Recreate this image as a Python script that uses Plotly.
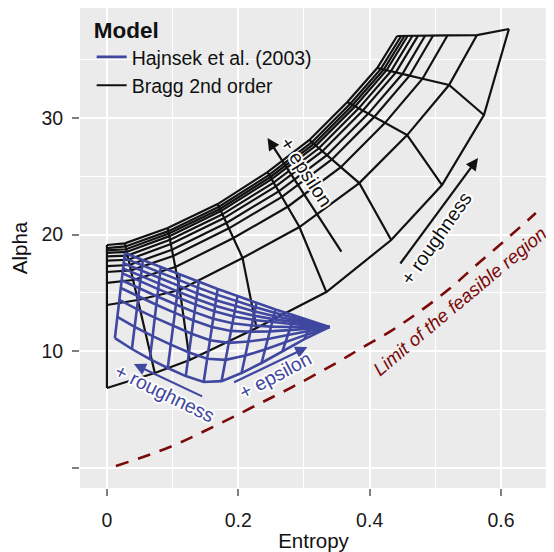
import plotly.graph_objects as go

# ---------------- data ----------------
# Bragg 2nd order mesh: one row per epsilon curve (high eps -> low eps), one column per roughness line
bragg_x = [
    [0, .0273, .0926, .1686, .2445, .3083, .3660, .4115, .4419],
    [0, .0283, .0935, .1705, .2469, .3121, .3705, .4170, .4480],
    [0, .0292, .0943, .1721, .2489, .3151, .3742, .4214, .4529],
    [0, .0299, .0951, .1736, .2509, .3181, .3778, .4258, .4577],
    [0, .0311, .0961, .1759, .2538, .3227, .3833, .4323, .4650],
    [0, .0325, .0973, .1784, .2571, .3280, .3897, .4399, .4735],
    [0, .0343, .0990, .1819, .2615, .3349, .3979, .4498, .4844],
    [0, .0363, .1008, .1857, .2664, .3425, .4070, .4607, .4966],
    [0, .0398, .1042, .1926, .2752, .3561, .4234, .4805, .5184],
    [0, .0471, .1109, .2065, .2931, .3842, .4571, .5209, .5634],
    [0, .0729, .1260, .2278, .3341, .4328, .5102, .5740, .6120],
]
bragg_y = [
    [19.11, 19.25, 20.57, 22.62, 25.36, 28.11, 31.36, 34.28, 37.02],
    [18.85, 18.99, 20.30, 22.39, 25.12, 27.92, 31.22, 34.20, 37.02],
    [18.65, 18.75, 20.09, 22.20, 24.94, 27.77, 31.11, 34.15, 37.02],
    [18.44, 18.52, 19.87, 22.02, 24.75, 27.63, 30.99, 34.09, 37.02],
    [18.13, 18.20, 19.56, 21.74, 24.46, 27.40, 30.82, 34.00, 37.02],
    [17.77, 17.85, 19.19, 21.42, 24.14, 27.15, 30.63, 33.90, 37.03],
    [17.31, 17.40, 18.71, 21.00, 23.71, 26.81, 30.37, 33.76, 37.04],
    [16.80, 16.94, 18.17, 20.54, 23.24, 26.44, 30.09, 33.62, 37.06],
    [15.87, 16.11, 17.22, 19.71, 22.39, 25.78, 29.58, 33.36, 37.07],
    [13.97, 14.40, 15.25, 18.00, 20.65, 24.42, 28.53, 32.82, 37.10],
    [6.86, 8.14, 9.25, 12.00, 15.08, 19.54, 24.25, 30.25, 37.62],
]

# Hajnsek et al. (2003) mesh: one row per roughness curve, one column per epsilon line
hajnsek_x = [
    [.0273, .0547, .0820, .1109, .1397, .1686, .1989, .2278, .2566, .2855, .3128, .3386],
    [.0264, .0536, .0809, .1098, .1385, .1673, .1974, .2264, .2554, .2844, .3121, .3386],
    [.0255, .0527, .0800, .1087, .1373, .1660, .1961, .2251, .2541, .2833, .3113, .3386],
    [.0246, .0516, .0790, .1075, .1362, .1648, .1946, .2237, .2528, .2821, .3107, .3386],
    [.0237, .0507, .0781, .1065, .1350, .1634, .1932, .2223, .2515, .2811, .3099, .3386],
    [.0225, .0494, .0767, .1051, .1333, .1617, .1912, .2205, .2498, .2797, .3089, .3386],
    [.0211, .0478, .0752, .1034, .1317, .1599, .1889, .2185, .2480, .2780, .3078, .3386],
    [.0190, .0456, .0729, .1008, .1289, .1569, .1856, .2153, .2450, .2755, .3061, .3386],
    [.0159, .0422, .0696, .0972, .1250, .1526, .1807, .2108, .2407, .2718, .3037, .3386],
    [.0121, .0380, .0653, .0926, .1200, .1473, .1746, .2050, .2354, .2673, .3007, .3386],
]
hajnsek_y = [
    [18.42, 17.82, 17.22, 16.58, 15.94, 15.34, 14.74, 14.14, 13.58, 13.07, 12.55, 12.08],
    [17.99, 17.37, 16.75, 16.10, 15.46, 14.86, 14.30, 13.78, 13.31, 12.89, 12.46, 12.08],
    [17.55, 16.91, 16.28, 15.62, 14.97, 14.38, 13.86, 13.42, 13.03, 12.70, 12.37, 12.08],
    [17.11, 16.45, 15.80, 15.14, 14.49, 13.91, 13.43, 13.06, 12.76, 12.52, 12.28, 12.08],
    [16.68, 15.99, 15.33, 14.66, 14.00, 13.43, 12.99, 12.70, 12.49, 12.34, 12.19, 12.08],
    [16.09, 15.38, 14.70, 14.02, 13.36, 12.79, 12.41, 12.22, 12.12, 12.09, 12.07, 12.08],
    [15.43, 14.70, 13.99, 13.30, 12.64, 12.08, 11.75, 11.68, 11.71, 11.82, 11.93, 12.08],
    [14.41, 13.62, 12.89, 12.18, 11.51, 10.95, 10.73, 10.84, 11.06, 11.40, 11.73, 12.08],
    [12.96, 12.10, 11.31, 10.57, 9.90, 9.36, 9.27, 9.64, 10.15, 10.79, 11.43, 12.08],
    [11.14, 10.20, 9.34, 8.57, 7.88, 7.37, 7.45, 8.14, 9.00, 10.03, 11.05, 12.08],
]

# Limit of the feasible region
limit_x = [0.0137, 0.0957, 0.161, 0.222, 0.282, 0.349, 0.384, 0.434, 0.475, 0.521, 0.566, 0.612, 0.653]
limit_y = [0.17, 1.80, 3.51, 5.23, 6.94, 9.00, 10.16, 11.80, 13.37, 15.34, 17.57, 19.80, 21.85]

x_ticks = [0, 0.2, 0.4, 0.6]
x_tick_labels = ["0", "0.2", "0.4", "0.6"]
y_ticks = [0, 10, 20, 30]
y_tick_labels = ["", "10", "20", "30"]

# ---------------- helpers ----------------
def mesh_xy(mx, my):
    xs, ys = [], []
    for rx, ry in zip(mx, my):
        xs += list(rx) + [None]
        ys += list(ry) + [None]
    ncol = len(mx[0])
    for c in range(ncol):
        xs += [row[c] for row in mx] + [None]
        ys += [row[c] for row in my] + [None]
    return xs, ys

FONT = "Liberation Sans, Arial, Helvetica, sans-serif"
BLUE = "#3F47A0"
BLACK = "#111111"
RED = "#7A0A0A"
FS = 19.5
HALO = ("white 2px 0 0, white -2px 0 0, white 0 2px 0, white 0 -2px 0, "
        "white 1.5px 1.5px 0, white -1.5px -1.5px 0, white 1.5px -1.5px 0, white -1.5px 1.5px 0")

fig = go.Figure()

bx, by = mesh_xy(bragg_x, bragg_y)
fig.add_trace(go.Scatter(x=bx, y=by, mode="lines", name="Bragg 2nd order",
                         line=dict(color=BLACK, width=2.2), hoverinfo="skip"))
hx, hy = mesh_xy(hajnsek_x, hajnsek_y)
fig.add_trace(go.Scatter(x=hx, y=hy, mode="lines", name="Hajnsek et al. (2003)",
                         line=dict(color=BLUE, width=2.6), hoverinfo="skip"))
fig.add_trace(go.Scatter(x=limit_x, y=limit_y, mode="lines", showlegend=False,
                         line=dict(color=RED, width=2.6, dash="13px,10px", shape="spline"),
                         hoverinfo="skip"))

ann = []
def arrow(x0, y0, x1, y1, color):
    ann.append(dict(x=x1, y=y1, ax=x0, ay=y0, xref="x", yref="y", axref="x", ayref="y",
                    text="", showarrow=True, arrowhead=2, arrowsize=1.1, arrowwidth=2.2,
                    arrowcolor=color))

def label(x, y, text, angle, color, italic=False, halo=True, size=FS):
    f = dict(family=FONT, size=size, color=color)
    if halo:
        f["shadow"] = HALO
    if italic:
        f["style"] = "italic"
    ann.append(dict(x=x, y=y, xref="x", yref="y", text=text, showarrow=False,
                    textangle=angle, font=f))

arrow(0.3584, 18.42, 0.2445, 28.28, BLACK)
label(0.3037, 25.36, "+ epsilon", 57, BLACK)
arrow(0.445, 17.40, 0.565, 26.56, BLACK)
label(0.501, 19.71, "+ roughness", -55, BLACK)
arrow(0.1473, 6.08, 0.0410, 8.91, BLUE)
label(0.0881, 6.45, "+ roughness", 26, BLUE)
arrow(0.1913, 7.28, 0.3052, 10.37, BLUE)
label(0.2566, 7.95, "+ epsilon", -28, BLUE)
label(0.5365, 14.30, "Limit of the feasible region", -40, RED, italic=True, halo=False, size=18.8)

# The page body adds an 8px offset; size the figure so the panel lands where the reference has it.
fig.update_layout(
    width=546, height=544,
    margin=dict(l=72, r=7, t=0, b=64),
    paper_bgcolor="white", plot_bgcolor="#EBEBEB",
    font=dict(family=FONT, size=FS, color="#1a1a1a"),
    annotations=ann,
    showlegend=True,
    legend=dict(x=0.025, y=0.999, xanchor="left", yanchor="top", bgcolor="rgba(0,0,0,0)",
                traceorder="reversed", font=dict(size=FS, color="#111"), tracegroupgap=0,
                title=dict(text="<b>Model</b>", font=dict(size=22.5, color="#111"))),
)
fig.update_xaxes(range=[-0.041, 0.67], tickvals=x_ticks, ticktext=x_tick_labels,
                 automargin=False,
                 showgrid=True, gridcolor="white", gridwidth=2, zeroline=False,
                 ticks="outside", ticklen=7, tickwidth=2, tickcolor="#7F7F7F",
                 ticklabelstandoff=8,
                 tickfont=dict(size=FS, color="#1a1a1a"),
                 minor=dict(tickvals=[0.1, 0.3, 0.5], showgrid=True, gridcolor="white", gridwidth=1),
                 title=dict(text="Entropy", font=dict(size=20.5, color="#111"), standoff=3),
                 showline=False)
fig.update_yaxes(range=[-1.71, 39.42], tickvals=y_ticks, ticktext=y_tick_labels,
                 automargin=False,
                 showgrid=True, gridcolor="white", gridwidth=2, zeroline=False,
                 ticks="outside", ticklen=7, tickwidth=2, tickcolor="#7F7F7F",
                 ticklabelstandoff=5,
                 tickfont=dict(size=FS, color="#1a1a1a"),
                 minor=dict(tickvals=[5, 15, 25, 35], showgrid=True, gridcolor="white", gridwidth=1),
                 title=dict(text="Alpha", font=dict(size=20.5, color="#111"), standoff=17),
                 showline=False)

fig.write_html("out.html")
